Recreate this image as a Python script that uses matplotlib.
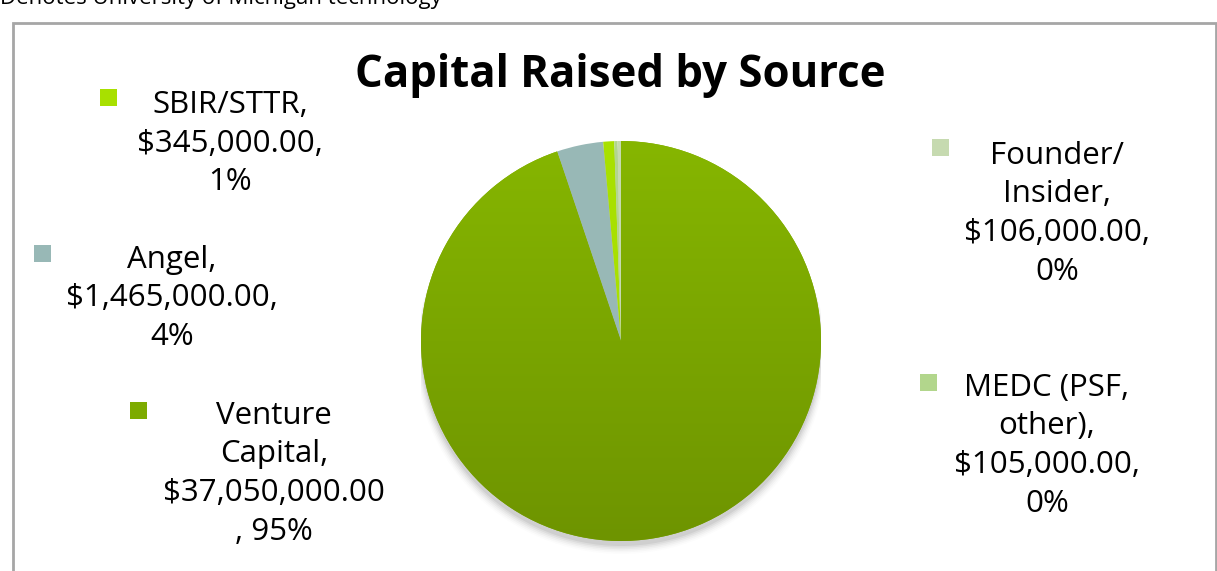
import matplotlib
matplotlib.use("Agg")
import matplotlib.pyplot as plt
from matplotlib.patches import Rectangle
from matplotlib.colors import LinearSegmentedColormap
import numpy as np

# ---- data ----
sources = ["Venture Capital", "Angel", "SBIR/STTR", "MEDC (PSF, other)", "Founder/ Insider"]
amounts = [37050000, 1465000, 345000, 105000, 106000]
percent_labels = ["95%", "4%", "1%", "0%", "0%"]
label_text = [
    "Venture\nCapital,\n$37,050,000.00\n, 95%",
    "Angel,\n$1,465,000.00,\n4%",
    "SBIR/STTR,\n$345,000.00,\n1%",
    "MEDC (PSF,\nother),\n$105,000.00,\n0%",
    "Founder/\nInsider,\n$106,000.00,\n0%",
]
colors = ["#7dab00", "#98b8b6", "#a8e000", "#b2d68c", "#c6dab0"]
title = "Capital Raised by Source"
top_note = "Denotes University of Michigan technology"

W, H = 1217, 571
fig = plt.figure(figsize=(W / 100, H / 100), dpi=100)
fig.patch.set_facecolor("white")

def fx(px):
    return px / W

def fy(py):
    return 1 - py / H

# frame border
fig.patches.append(Rectangle((fx(13), fy(600)), fx(1216) - fx(13), fy(23) - fy(600),
                             transform=fig.transFigure, fill=False,
                             edgecolor="#a6a6a6", linewidth=2, zorder=0))

# top note (clipped at top, as in the reference)
fig.text(fx(0), fy(4), top_note, fontsize=16, family="Open Sans",
         va="baseline", ha="left", color="black")

# pie
cx, cy, r = 621, 341, 200
pad = 16
ax = fig.add_axes([fx(cx - r), fy(cy + r + pad), 2 * r / W, (2 * r + pad) / H])
# soft shadow
for i, a in enumerate(np.linspace(0.05, 0.01, 6)):
    ax.add_patch(matplotlib.patches.Ellipse((0, -0.025 - i * 0.008), 2.0 + i * 0.01, 2.0,
                                            facecolor="#000000", alpha=a, edgecolor="none",
                                            zorder=0))
wedges, _ = ax.pie(amounts, colors=colors, startangle=90, counterclock=False,
                   wedgeprops=dict(linewidth=0), radius=1.0)
for w in wedges:
    w.set_zorder(2)
# vertical gradient on the main slice
cmap = LinearSegmentedColormap.from_list("g", ["#6e9400", "#86b600"])
grad = np.linspace(0, 1, 256).reshape(-1, 1)
im = ax.imshow(grad, extent=(-1, 1, -1, 1), origin="lower", cmap=cmap,
               aspect="auto", zorder=3)
im.set_clip_path(wedges[0])
ax.set_xlim(-1, 1)
ax.set_ylim(-1 - pad / r, 1)
ax.set_aspect("auto")
ax.axis("off")

# title
fig.text(fx(620), fy(75), title, fontsize=31.5, fontweight="bold",
         family="Open Sans", ha="center", va="center", color="black")

# labels: (center x, first-line center y, marker x, marker y)
label_pos = [
    (274, 413, 138, 410),
    (172, 258, 42, 253),
    (230, 103, 108, 97),
    (1047, 385, 928, 382),
    (1057, 153, 940, 147),
]
line_h = 40.5
for txt, col, (tx, ty, mx, my) in zip(label_text, colors, label_pos):
    n = txt.count("\n") + 1
    ymid = ty + (n - 1) * line_h / 2
    fig.text(fx(tx), fy(ymid), txt, fontsize=22.5, family="Open Sans",
             ha="center", va="center", multialignment="center",
             linespacing=1.38, color="black")
    s = 17
    fig.patches.append(Rectangle((fx(mx - s / 2), fy(my + s / 2)), s / W, s / H,
                                 transform=fig.transFigure, facecolor=col,
                                 edgecolor="none"))

fig.savefig("out.png", dpi=100, facecolor="white")
